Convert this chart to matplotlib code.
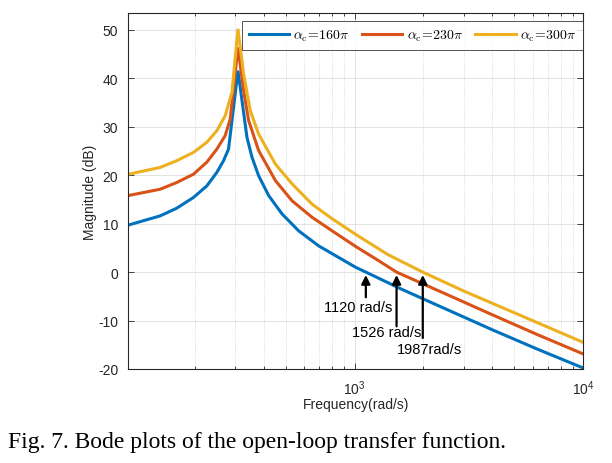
import matplotlib
matplotlib.use("Agg")
import matplotlib.pyplot as plt
from matplotlib.ticker import FixedLocator, LogLocator, NullFormatter

# ---------------- data ----------------
freq_160 = [102.3, 141, 166.9, 197.3, 225.9, 249.9, 267.2, 281, 309, 321.8, 338.3, 355.9,
            380.4, 420.9, 481.8, 569.8, 697.3, 853.3, 1010, 1120, 1600, 2500, 4000, 6300, 10000]
mag_160 = [9.7, 11.6, 13.2, 15.4, 17.8, 20.6, 23.0, 25.4, 41.6, 35.4, 27.8, 23.7,
           19.9, 15.8, 12.0, 8.5, 5.4, 3.0, 1.0, 0.0, -3.5, -7.6, -11.9, -15.9, -19.8]

freq_230 = [102.3, 141, 166.9, 197.3, 225.9, 249.9, 271.8, 285.8, 309, 327, 343.9, 380.4,
            450.3, 533.2, 652.4, 798.5, 1010, 1250, 1526, 2500, 4000, 6300, 10000]
mag_230 = [15.8, 17.1, 18.5, 20.2, 22.7, 25.4, 28.2, 31.6, 46.4, 37.5, 31.3, 25.1,
           18.9, 14.7, 11.3, 8.5, 5.3, 2.6, 0.0, -4.5, -8.8, -12.9, -16.9]

freq_300 = [102.3, 141, 166.9, 197.3, 225.9, 249.9, 271.8, 290.8, 309, 327, 349.9, 380.4,
            450.3, 533.2, 652.4, 798.5, 1010, 1400, 1987, 3000, 5000, 10000]
mag_300 = [20.2, 21.6, 23.0, 24.7, 26.8, 29.2, 32.3, 37.1, 50.2, 40.9, 33.3, 28.5,
           22.3, 18.2, 14.0, 11.0, 7.8, 3.6, 0.0, -3.9, -8.4, -14.5]

series_labels = [r'$\alpha_{\mathrm{c}}\!=\!160\pi$', r'$\alpha_{\mathrm{c}}\!=\!230\pi$',
                 r'$\alpha_{\mathrm{c}}\!=\!300\pi$']
crossover_freqs = [1120, 1526, 1987]
crossover_labels = ['1120 rad/s', '1526 rad/s', '1987rad/s']
y_ticks = [-20, -10, 0, 10, 20, 30, 40, 50]
x_ticks = [1e3, 1e4]

# ---------------- styling ----------------
plt.rcParams['font.family'] = ['Liberation Sans', 'DejaVu Sans']
plt.rcParams['mathtext.fontset'] = 'cm'
plt.rcParams['axes.unicode_minus'] = False
colors = ['#0072BD', '#D95319', '#EDB120']
axcol = '#262626'

fig = plt.figure(figsize=(6.12, 4.64), dpi=100)
ax = fig.add_axes([0.209, 0.2026, 0.744, 0.7674])

for f, m, c, lab in zip([freq_160, freq_230, freq_300], [mag_160, mag_230, mag_300],
                        colors, series_labels):
    ax.plot(f, m, color=c, lw=2.2, label=lab, solid_joinstyle='miter')

ax.set_xscale('log')
ax.set_xlim(102, 1e4)
ax.set_ylim(-20, 53.5)
ax.set_yticks(y_ticks)
ax.xaxis.set_major_locator(FixedLocator(x_ticks))
ax.xaxis.set_minor_locator(LogLocator(base=10, subs=range(2, 10)))
ax.xaxis.set_minor_formatter(NullFormatter())
ax.set_xticklabels([r'$\mathregular{10^{3}}$', r'$\mathregular{10^{4}}$'])

ax.grid(True, which='major', color='#dedede', lw=0.6, ls='-')
ax.grid(True, which='minor', axis='x', color='#d0d0d0', lw=0.6, ls=':')
ax.set_axisbelow(True)

for s in ax.spines.values():
    s.set_color(axcol)
    s.set_linewidth(0.8)
ax.tick_params(which='both', direction='in', top=True, right=True, colors=axcol,
               labelsize=10, width=0.6)
ax.tick_params(which='major', length=4)
ax.tick_params(which='minor', length=2)
ax.tick_params(axis='y', pad=7)
ax.tick_params(axis='x', pad=7)

ax.set_xlabel('Frequency(rad/s)', fontsize=10, color=axcol, labelpad=0)
ax.set_ylabel('Magnitude (dB)', fontsize=10, color=axcol, labelpad=1)

leg = ax.legend(loc='upper right', bbox_to_anchor=(1.0, 0.977), ncol=3, fontsize=10,
                frameon=True, fancybox=False, edgecolor=axcol, handlelength=2.9,
                handletextpad=0.3, columnspacing=0.9, borderpad=0.5, borderaxespad=0)
leg.get_frame().set_linewidth(0.7)

# annotations
tail_y = [-5.2, -11.2, -13.6]
text_x = [1036, 1375, 2132]
text_y = [-7.2, -12.4, -15.9]
for fc, ty, tx, tyy, lab in zip(crossover_freqs, tail_y, text_x, text_y, crossover_labels):
    ax.annotate('', xy=(fc, -0.6), xytext=(fc, ty),
                arrowprops=dict(arrowstyle='-|>', color='k', lw=1.6, mutation_scale=13,
                                shrinkA=0, shrinkB=0))
    ax.text(tx, tyy, lab, ha='center', va='center', fontsize=10.5, color='k')

fig.text(0.013, 0.047, 'Fig. 7. Bode plots of the open-loop transfer function.',
         fontsize=17, family=['Liberation Serif', 'DejaVu Serif'], ha='left', va='center')

fig.savefig('out.png', dpi=100)
